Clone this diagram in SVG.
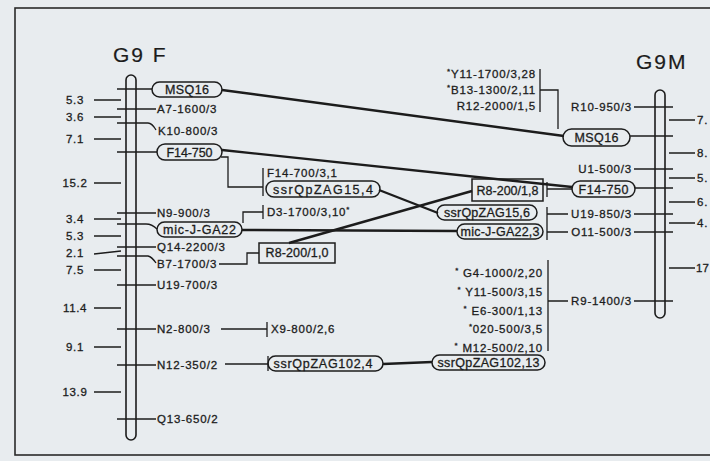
<svg xmlns="http://www.w3.org/2000/svg" width="710" height="461" viewBox="0 0 710 461">
<defs>
<style>
text{font-family:"Liberation Sans",Arial,sans-serif;fill:#1c1c1c;stroke:#1c1c1c;stroke-width:0.3}
.lb{font-size:11.5px;letter-spacing:0.8px}
.num{font-size:11.5px;letter-spacing:0.6px;text-anchor:middle}
.pl{font-size:12.5px;text-anchor:middle}
.ttl{font-size:21px;letter-spacing:2px;stroke-width:0.2}
.end{text-anchor:end}
.sup{font-size:8px}
.bar{fill:none;stroke:#1c1c1c;stroke-width:1.6}
.pill{fill:none;stroke:#1c1c1c;stroke-width:1.5}
.tk{stroke:#1c1c1c;stroke-width:1.3;fill:none}
.thick{stroke:#1c1c1c;stroke-width:2.4;fill:none}
</style>
</defs>
<rect x="0" y="0" width="710" height="461" fill="#e8ecef"/>
<rect x="15" y="8" width="720" height="447" fill="none" stroke="#2a2a2a" stroke-width="1.6"/>

<g id="title-left"><text class="ttl" x="113" y="62">G9 F</text></g>
<g id="title-right"><text class="ttl" x="636" y="69">G9M</text></g>

<g id="chrom-left"><rect class="bar" x="126" y="75" width="10" height="365" rx="5"/></g>
<g id="chrom-right"><rect class="bar" x="655" y="90" width="10" height="228" rx="5"/></g>

<g id="left-distances">
<path class="tk" d="M94,100H121M94,117H121M94,139H121M94,183H121M94,219H121M94,236H121M94,254L121,251M94,270H121M94,308H121M94,347H121M94,392H121"/>
<text class="num" x="75" y="104">5.3</text>
<text class="num" x="75" y="121">3.6</text>
<text class="num" x="75" y="143">7.1</text>
<text class="num" x="75" y="187">15.2</text>
<text class="num" x="75" y="223">3.4</text>
<text class="num" x="75" y="240">5.3</text>
<text class="num" x="75" y="257">2.1</text>
<text class="num" x="75" y="274">7.5</text>
<text class="num" x="75" y="312">11.4</text>
<text class="num" x="75" y="351">9.1</text>
<text class="num" x="75" y="396">13.9</text>
</g>

<g id="right-distances">
<path class="tk" d="M669,120H695M669,153H695M669,178H695M669,202H695M669,223H695M669,268H695"/>
<text class="lb" x="697" y="124">7.</text>
<text class="lb" x="697" y="157">8.</text>
<text class="lb" x="697" y="182">5.</text>
<text class="lb" x="697" y="206">6.</text>
<text class="lb" x="697" y="227">4.</text>
<text class="lb" x="696" y="272" style="letter-spacing:0">17</text>
</g>

<g id="L-MSQ16"><path class="tk" d="M117,89H152"/><rect class="pill" x="152" y="82" width="70" height="15" rx="7.5"/><text class="pl" x="187" y="94" textLength="44">MSQ16</text></g>
<g id="L-A7"><path class="tk" d="M117,109H156"/><text class="lb" x="157" y="113">A7-1600/3</text></g>
<g id="L-K10"><path class="tk" d="M117,123H148Q152,123 156,130"/><text class="lb" x="158" y="135">K10-800/3</text></g>
<g id="L-F14-750"><path class="tk" d="M117,152H157"/><rect class="pill" x="157" y="144" width="65" height="16" rx="8"/><text class="pl" x="189.5" y="157" textLength="46">F14-750</text></g>
<g id="L-N9"><path class="tk" d="M117,213H156"/><text class="lb" x="157" y="217">N9-900/3</text></g>
<g id="L-micJGA22"><path class="tk" d="M117,224H146Q152,224 157,229"/><rect class="pill" x="157" y="222" width="85" height="15" rx="7.5"/><text class="pl" x="199.5" y="234" textLength="73">mic-J-GA22</text></g>
<g id="L-Q14"><path class="tk" d="M117,247H156"/><text class="lb" x="157" y="251">Q14-2200/3</text></g>
<g id="L-B7"><path class="tk" d="M117,256H148Q152,257 156,263"/><text class="lb" x="157" y="268">B7-1700/3</text></g>
<g id="L-U19"><path class="tk" d="M117,285H156"/><text class="lb" x="157" y="289">U19-700/3</text></g>
<g id="L-N2"><path class="tk" d="M117,329H156"/><text class="lb" x="157" y="333">N2-800/3</text></g>
<g id="L-N12"><path class="tk" d="M117,365H156"/><text class="lb" x="157" y="369">N12-350/2</text></g>
<g id="L-Q13"><path class="tk" d="M117,419H156"/><text class="lb" x="157" y="423">Q13-650/2</text></g>

<g id="F14-700"><text class="lb" x="267" y="177">F14-700/3,1</text></g>
<g id="ssrQpZAG15-4"><rect class="pill" x="266" y="181" width="114" height="16" rx="8"/><text class="pl" x="323" y="194" textLength="100">ssrQpZAG15,4</text></g>
<g id="D3"><path class="tk" d="M263,205V219"/><text class="lb" x="267" y="216">D3-1700/3,10<tspan class="sup" dy="-4">*</tspan></text></g>
<g id="R8-10"><rect class="pill" x="259" y="243" width="76" height="20"/><text class="pl" x="297" y="257" textLength="63">R8-200/1,0</text></g>
<g id="X9"><path class="tk" d="M267,322V337"/><text class="lb" x="271" y="333">X9-800/2,6</text></g>
<g id="ssrQpZAG102-4"><path class="tk" d="M268,356V371"/><rect class="pill" x="268" y="356" width="115" height="15" rx="7.5"/><text class="pl" x="323" y="368" textLength="99">ssrQpZAG102,4</text></g>

<g id="R-group1">
<text class="lb end" x="536" y="78"><tspan class="sup" dy="-4">*</tspan><tspan dy="4">Y11-1700/3,28</tspan></text>
<text class="lb end" x="536" y="94"><tspan class="sup" dy="-4">*</tspan><tspan dy="4">B13-1300/2,11</tspan></text>
<text class="lb end" x="536" y="110">R12-2000/1,5</text>
<path class="tk" d="M540,69V112M540,90H558V129"/>
</g>
<g id="R-R10"><text class="lb end" x="632" y="111">R10-950/3</text><path class="tk" d="M634,107H673"/></g>
<g id="R-MSQ16"><rect class="pill" x="563" y="129" width="67" height="17" rx="8.5"/><text class="pl" x="596.5" y="142" textLength="44">MSQ16</text><path class="tk" d="M630,136H673"/></g>
<g id="R-U1"><text class="lb end" x="632" y="173">U1-500/3</text><path class="tk" d="M634,169H673"/></g>
<g id="R8-18"><rect class="pill" x="472" y="179" width="71" height="22"/><text class="pl" x="507.5" y="195" textLength="62">R8-200/1,8</text><path class="tk" d="M547,182V197M547,189H572"/></g>
<g id="R-F14-750"><rect class="pill" x="572" y="181" width="63" height="16" rx="8"/><text class="pl" x="603.5" y="194" textLength="50">F14-750</text><path class="tk" d="M635,188H673"/></g>
<g id="ssrQpZAG15-6"><rect class="pill" x="437" y="205" width="100" height="15" rx="7.5"/><text class="pl" x="487" y="217" textLength="86">ssrQpZAG15,6</text></g>
<g id="micJGA22-3"><rect class="pill" x="457" y="224" width="86" height="15" rx="7.5"/><text class="pl" x="500" y="236" textLength="79">mic-J-GA22,3</text></g>
<g id="R-U19"><path class="tk" d="M547,207V240M547,214H568M634,214H673"/><text class="lb end" x="632" y="218">U19-850/3</text></g>
<g id="R-O11"><path class="tk" d="M547,232H568M634,232H673"/><text class="lb end" x="632" y="236">O11-500/3</text></g>
<g id="R-group2">
<text class="lb end" x="543" y="277"><tspan class="sup" dy="-4">*</tspan><tspan dy="4"> G4-1000/2,20</tspan></text>
<text class="lb end" x="543" y="296"><tspan class="sup" dy="-4">*</tspan><tspan dy="4"> Y11-500/3,15</tspan></text>
<text class="lb end" x="543" y="315"><tspan class="sup" dy="-4">*</tspan><tspan dy="4"> E6-300/1,13</tspan></text>
<text class="lb end" x="543" y="333"><tspan class="sup" dy="-4">*</tspan><tspan dy="4">020-500/3,5</tspan></text>
<text class="lb end" x="543" y="352"><tspan class="sup" dy="-4">*</tspan><tspan dy="4"> M12-500/2,10</tspan></text>
<path class="tk" d="M548,260V351M548,301H568"/>
</g>
<g id="R-R9"><text class="lb end" x="632" y="305">R9-1400/3</text><path class="tk" d="M634,301H673"/></g>
<g id="ssrQpZAG102-13"><rect class="pill" x="432" y="355" width="113" height="15" rx="7.5"/><text class="pl" x="488.5" y="367" textLength="102">ssrQpZAG102,13</text></g>

<g id="connectors">
<path class="thick" d="M222,90L564,136"/>
<path class="thick" d="M222,150L572,187"/>
<path class="thick" d="M242,230L457,231"/>
<path class="thick" d="M379,190L438,213"/>
<path class="thick" d="M289,243L472,191"/>
<path class="thick" d="M383,364L432,362"/>
<path class="tk" d="M221,157H228V187H263M263,168V196"/>
<path class="tk" d="M243,223V212H263"/>
<path class="tk" d="M219,264H247V253H259"/>
<path class="tk" d="M221,329H267"/>
<path class="tk" d="M225,364H268"/>
</g>
</svg>
